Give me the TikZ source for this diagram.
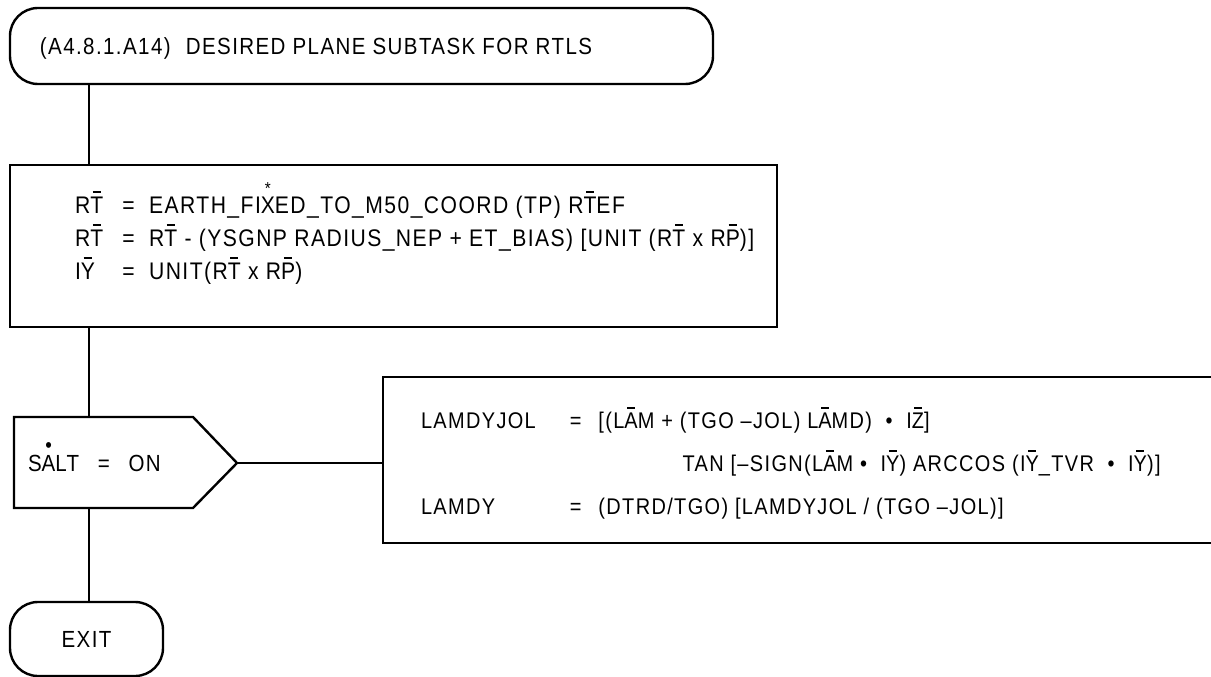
\documentclass[tikz,border=0pt]{standalone}
\usepackage{fontspec}
\setmainfont{Liberation Sans}[FakeStretch=0.88,LetterSpace=6]
\newsavebox{\markbox}
\newcommand{\ovl}[1]{\leavevmode\sbox{\markbox}{#1}\rlap{\hbox to\wd\markbox{\hss\rule[\dimexpr\ht\markbox+3.4pt\relax]{0.6\wd\markbox}{1.15pt}\hss}}\usebox{\markbox}}
\newcommand{\astover}[1]{\leavevmode\sbox{\markbox}{#1}\rlap{\hbox to\wd\markbox{\hss\raisebox{14.5pt}{\fontsize{13}{13}\selectfont *}\hss}}\usebox{\markbox}}
\newcommand{\dotover}[1]{\leavevmode\sbox{\markbox}{#1}\rlap{\hbox to\wd\markbox{\hss\raisebox{13.8pt}{\fontsize{16}{16}\selectfont •}\hss}}\usebox{\markbox}}
\tikzset{
  ln/.style={line width=1.8pt},
  txt/.style={inner sep=0pt, outer sep=0pt, font=\fontsize{17.5}{25}\selectfont},
  termbox/.style={draw, ln, rounded corners=21pt, inner sep=0pt},
  procbox/.style={draw, ln, inner sep=0pt},
}
\begin{document}
\begin{tikzpicture}[x=0.75pt,y=-0.75pt]
\useasboundingbox[fill=white] (0,0) rectangle (1211,677);
\coordinate (sp) at (89,0);
% start terminator
\node[termbox, minimum width=527.25pt, minimum height=57pt] (start) at (361.5,46) {};
\node[txt, anchor=base west] (title) at (40,55) {(A4.8.1.A14)\hspace{0.65em}DESIRED PLANE SUBTASK FOR RTLS};
% first process box
\node[procbox, minimum width=575.25pt, minimum height=121.5pt] (box1) at (393.5,246) {};
\node[txt, anchor=base west, font=\fontsize{18}{24.75}\selectfont] (box1txt) at (75,214) {%
\begin{tabular}[t]{@{}l@{\hspace{0.8em}=\hspace{0.6em}}l@{}}
R\ovl{T} & EARTH\_FI\astover{X}ED\_TO\_M50\_COORD (TP) R\ovl{T}EF\\
R\ovl{T} & R\ovl{T} - (YSGNP RADIUS\_NEP + ET\_BIAS) [UNIT (R\ovl{T} x R\ovl{P})]\\
I\ovl{Y} & UNIT(R\ovl{T} x R\ovl{P})
\end{tabular}};
% decision
\coordinate (dtl) at (14,417);
\coordinate (dtr) at (193,417);
\coordinate (dtip) at (237,463);
\coordinate (dbr) at (193,508);
\coordinate (dbl) at (14,508);
\draw[ln, line join=miter] (dtl) -- (dtr) -- (dtip) -- (dbr) -- (dbl) -- cycle;
\node[txt, anchor=base west] (salt) at (28,471) {S\dotover{A}LT\hspace{0.8em}=\hspace{0.8em}ON};
% second process box
\node[procbox, minimum width=635.25pt, minimum height=124.5pt] (box2) at (806.5,460) {};
\node[txt, anchor=base west, font=\fontsize{17}{32}\selectfont] (box2txt) at (421,429) {%
\begin{tabular}[t]{@{}l@{\hspace{1.5em}=\hspace{0.75em}}l@{}}
LAMDYJOL & [(L\ovl{A}M + (TGO --JOL) L\ovl{A}MD)\hspace{0.6em}•\hspace{0.6em}I\ovl{Z}]\\
\multicolumn{2}{@{}l@{}}{\hphantom{LAMDYJOL\hspace{1.5em}=\hspace{0.75em}[(LAM + }TAN [--SIGN(L\ovl{A}M •\hspace{0.6em}I\ovl{Y}) ARCCOS (I\ovl{Y}\_TVR\hspace{0.6em}•\hspace{0.6em}I\ovl{Y})]}\\
LAMDY & (DTRD/TGO) [LAMDYJOL / (TGO --JOL)]
\end{tabular}};
% exit terminator
\node[termbox, txt, minimum width=114.75pt, minimum height=55.5pt] (exit) at (86.5,639) {EXIT};
% connectors
\draw[ln] (start.south -| sp) -- (box1.north -| sp);
\draw[ln] (box1.south -| sp) -- (dtl -| sp);
\draw[ln] (dbl -| sp) -- (exit.north -| sp);
\draw[ln] (dtip) -- (dtip -| box2.west);
\end{tikzpicture}
\end{document}
